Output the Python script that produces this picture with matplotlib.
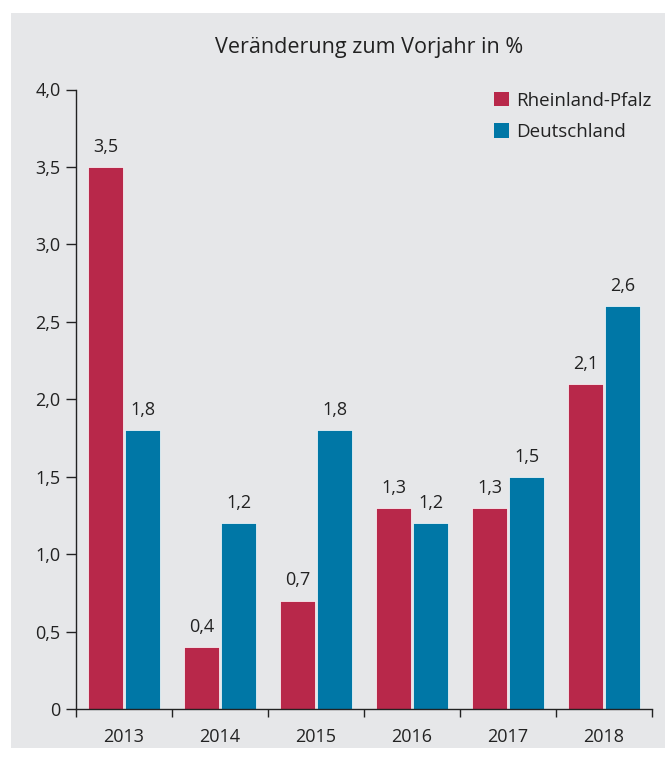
import numpy as np
import matplotlib.pyplot as plt
from matplotlib.patches import Rectangle, Patch

# Daten
jahre = ['2013', '2014', '2015', '2016', '2017', '2018']
rlp = [3.5, 0.4, 0.7, 1.3, 1.3, 2.1]
deutschland = [1.8, 1.2, 1.8, 1.2, 1.5, 2.6]
serien = ['Rheinland-Pfalz', 'Deutschland']
farben = ['#B8284A', '#0077A6']
y_ticks = [0, 0.5, 1.0, 1.5, 2.0, 2.5, 3.0, 3.5, 4.0]

plt.rcParams['font.family'] = ['Open Sans', 'DejaVu Sans']
textfarbe = '#222222'
hintergrund = '#E6E7E9'

fig = plt.figure(figsize=(6.65, 7.58), dpi=100, facecolor='white')
# grauer Hintergrundkasten
fig.patches.append(Rectangle((11 / 665, 1 - 748 / 758), 654 / 665, 735 / 758,
                             transform=fig.transFigure, facecolor=hintergrund,
                             edgecolor='none', zorder=-10))

ax = fig.add_axes([76 / 665, 1 - 709 / 758, 576 / 665, 619.5 / 758])
ax.set_facecolor('none')
ax.set_zorder(5)

x = np.arange(len(jahre))
breite = 0.365
b1 = ax.bar(x - 0.193, rlp, breite, color=farben[0], edgecolor='white', linewidth=0.5, zorder=2)
b2 = ax.bar(x + 0.193, deutschland, breite, color=farben[1], edgecolor='white', linewidth=0.5, zorder=2)

def fmt(v):
    return f'{v:.1f}'.replace('.', ',')

for cont, werte in [(b1, rlp), (b2, deutschland)]:
    ax.bar_label(cont, labels=[fmt(v) for v in werte], padding=8, fontsize=13, color=textfarbe)

ax.set_xlim(-0.5, len(jahre) - 0.5)
ax.set_ylim(0, 4)

# Achsen
for s in ['top', 'right']:
    ax.spines[s].set_visible(False)
for s in ['left', 'bottom']:
    ax.spines[s].set_color('#222222')
    ax.spines[s].set_linewidth(1.0)

ax.set_yticks(y_ticks)
ax.set_yticklabels(['0' if v == 0 else fmt(v) for v in y_ticks])
ax.tick_params(axis='y', length=7, width=1, colors='#222222', labelcolor=textfarbe, labelsize=13, pad=4)

ax.set_xticks(np.arange(-0.5, len(jahre)))
ax.set_xticklabels([])
ax.set_xticks(x, minor=True)
ax.set_xticklabels(jahre, minor=True)
ax.tick_params(axis='x', which='major', length=6, width=1, colors='#222222')
ax.tick_params(axis='x', which='minor', length=0, labelsize=13, labelcolor=textfarbe, pad=14)

fig.text(369 / 665, 1 - 47 / 758, 'Veränderung zum Vorjahr in %', ha='center', va='center',
         fontsize=15.5, color=textfarbe)

handles = [Patch(facecolor=f, edgecolor='none') for f in farben]
fig.legend(handles, serien, loc='upper left', bbox_to_anchor=(486 / 665, 1 - 84 / 758), frameon=False,
           fontsize=13.5, handlelength=0.85, handleheight=0.85, handletextpad=0.35,
           labelspacing=0.7, labelcolor=textfarbe, borderaxespad=0)

fig.savefig('out.png', dpi=100, facecolor='white')
